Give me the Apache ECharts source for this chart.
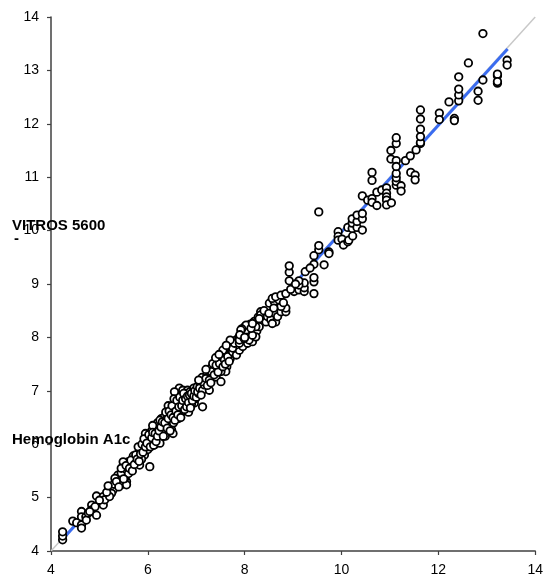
<!DOCTYPE html>
<html>
<head>
<meta charset="utf-8">
<script src="https://cdn.jsdelivr.net/npm/echarts@6/dist/echarts.min.js"></script>
<style>
html,body{margin:0;padding:0;background:#fff;}
#chart{width:546px;height:585px;}
</style>
</head>
<body>
<div id="chart"></div>
<script>
// Tick settings
var xTicks = [4, 6, 8, 10, 12, 14];
var yTicks = [4, 5, 6, 7, 8, 9, 10, 11, 12, 13, 14];

// Axis title texts
var yTitleLine1 = 'VITROS 5600';
var yTitleLine2 = '-';
var yTitleLine3 = 'Hemoglobin A1c';

// Reference lines
var identityLine = [[4, 4], [14, 14]];
var fitLine = [[4.22, 4.2], [13.43, 13.4]];

// Scatter points: [reference method, VITROS 5600]
var lowPoints = [
  [4.24,4.21],[4.24,4.28],[4.24,4.36],
  [4.45,4.56],[4.53,4.53],[4.63,4.74],[4.63,4.64],[4.63,4.49],[4.63,4.43],[4.72,4.64],[4.73,4.58],[4.77,4.71],
  [4.84,4.86],[4.84,4.77],[4.91,4.83],[4.94,4.67],[4.8,4.74],[4.94,5.03],[5.08,5.02],[5.08,4.86],[5.11,4.96],
  [5.21,5.17],[5.28,5.14],[5.25,5.08],[5.21,5.02],[5.38,5.42],[5.42,5.33],[5.45,5.24],[5.49,5.46],[5.56,5.3],
  [5.52,5.55],[5.59,5.67],[5.56,5.24],[5.32,5.36],[5.52,5.36],[5.45,5.46],[5.63,5.49],[5.56,5.52],[5.49,5.67],
  [5.59,5.61],[5.66,5.61],[5.69,5.67],[5.76,5.7],[5.83,5.61],[6.04,5.58],
  [5.3,5.25],[5.35,5.3],[5.4,5.2],[5.15,5.1],[5.0,4.95],[5.18,5.22],[5.6,5.45],[5.7,5.78]
];
var midPoints = [
  [5.8,5.8],[5.93,5.8],[5.83,5.89],[5.97,5.92],[5.9,5.99],[5.93,6.05],[6.0,6.11],[6.04,6.08],[6.07,6.02],
  [6.14,5.99],[6.21,6.05],[6.14,6.14],[6.24,6.17],[6.35,6.27],[6.38,6.33],[6.49,6.27],[6.52,6.2],[6.31,6.39],
  [6.28,6.48],[6.41,6.42],[6.49,6.45],[6.45,6.58],[6.55,6.64],[6.59,6.73],[6.62,6.92],[6.45,6.67],[6.55,6.7],
  [6.61,6.95],[6.65,7.05],[6.72,7.01],[6.82,7.01],[6.76,6.89],[6.69,6.8],[6.79,6.77],[6.86,6.7],[6.96,6.77],
  [6.89,6.89],[6.93,6.95],[7.13,6.7],
  [5.87,5.72],[5.95,6.2],[6.0,5.9],[6.08,6.25],[6.12,6.08],[6.18,6.22],[6.22,6.3],[6.27,6.12],[6.3,6.25],
  [6.33,6.5],[6.36,6.15],[6.4,6.55],[6.43,6.35],[6.47,6.5],[6.5,6.62],[6.53,6.4],[6.57,6.52],[6.6,6.6],
  [6.63,6.48],[6.66,6.68],[6.7,6.9],[6.73,6.62],[6.77,6.95],[6.8,6.82],[6.84,6.6],[6.87,6.98],[6.9,6.75],
  [6.95,7.05],[6.98,6.85],[6.2,6.4],[6.25,6.02],[6.1,6.35],[6.42,6.72],[6.55,6.98]
];
var densePoints = [
  [5.45,5.55],[5.5,5.35],[5.55,5.6],[5.62,5.55],[5.65,5.7],[5.68,5.5],[5.72,5.62],[5.75,5.8],[5.78,5.72],
  [5.8,5.95],[5.82,5.68],[5.85,5.82],[5.88,6.0],[5.9,5.85],[5.92,6.1],[5.95,5.95],[5.98,6.02],[6.02,6.18],
  [6.05,5.95],[6.08,6.12],[6.1,6.22],[6.12,5.98],[6.15,6.2],[6.17,6.05],[6.2,6.15],[6.23,6.25],[6.25,6.45],
  [6.27,6.32],[6.3,6.42],[6.32,6.15],[6.35,6.4],[6.37,6.6],[6.4,6.3],[6.42,6.48],[6.44,6.62],[6.46,6.25],
  [6.48,6.55],[6.5,6.72],[6.52,6.5],[6.54,6.85],[6.56,6.45],[6.58,6.62],[6.6,6.82],[6.62,6.55],[6.64,6.7],
  [6.66,6.88],[6.68,6.5],[6.7,6.72],[6.72,6.82],[6.74,6.95],[6.76,6.65],[6.78,6.85],[6.8,6.7],[6.82,6.9],
  [6.84,6.78],[6.86,6.92],[6.88,6.68],[6.9,6.95],[6.92,6.82],[6.95,6.9],[6.97,7.0],[7.0,6.88],[7.02,7.08],
  [7.05,6.95],[7.08,7.12],[7.1,7.02],[7.12,7.25],[7.15,7.08],[7.18,7.18],[7.2,7.05],[7.22,7.3],[7.25,7.15],
  [7.28,7.28],[7.3,7.42],[7.32,7.22],[7.35,7.38],[7.38,7.45],[7.4,7.32],[7.43,7.52],[7.45,7.45],[7.48,7.38],
  [7.5,7.55],[7.53,7.65],[7.55,7.38],[7.58,7.7],[7.6,7.62],[7.63,7.45],[7.65,7.75],[7.68,7.68],[7.7,7.6],
  [7.72,7.72],[7.75,7.9],[7.78,7.7],[7.8,7.85],[7.82,7.95],[7.85,7.82],[7.88,8.0],[7.9,7.85],[7.92,7.92],
  [7.95,8.05],[7.98,7.88],[8.0,8.2],[8.05,8.0],[8.08,8.15],[8.1,8.05],[8.12,8.25],[8.15,8.1],[8.18,8.0],
  [8.2,8.3],[8.25,8.12],[8.28,8.38],[8.3,8.2]
];
var upperMidPoints = [
  [7.03,6.98],[7.07,7.05],[7.13,7.01],[7.27,7.01],[7.17,7.11],[7.13,7.17],[7.2,7.23],[7.27,7.2],[7.31,7.36],
  [7.41,7.26],[7.51,7.17],[7.61,7.36],[7.51,7.36],[7.44,7.42],[7.34,7.51],[7.41,7.48],[7.48,7.51],[7.58,7.58],
  [7.55,7.76],[7.65,7.64],[7.72,7.83],[7.75,7.73],[7.79,7.8],[7.83,7.67],[7.89,7.76],[7.85,7.89],[7.96,7.92],
  [8.03,7.89],[8.06,8.08],[8.03,8.14],[8.03,8.23],[7.94,8.16],
  [7.82,7.86],[7.96,7.83],[7.75,7.8],[7.79,7.89],[7.89,7.89],[7.89,7.95],[8.06,7.89],[8.16,7.92],[8.09,7.95],
  [7.99,7.98],[8.23,8.01],[8.16,8.04],[7.92,8.14],[8.23,8.2],[8.13,8.17],[8.16,8.26],
  [7.05,7.2],[7.1,6.92],[7.2,7.4],[7.23,7.1],[7.37,7.3],[7.4,7.62],[7.45,7.35],[7.55,7.45],[7.6,7.5],
  [7.68,7.55],[7.7,7.95],[7.62,7.85],[7.9,8.05],[8.0,8.0],[7.3,7.15],[7.47,7.68]
];
var upperPoints = [
  [8.33,8.48],[8.33,8.42],[8.37,8.33],[8.44,8.29],[8.47,8.39],[8.54,8.33],[8.64,8.29],[8.57,8.26],[8.68,8.39],
  [8.75,8.48],[8.85,8.48],[8.85,8.55],[8.75,8.58],[8.51,8.64],[8.61,8.67],[8.71,8.7],[8.57,8.73],[8.64,8.76],
  [8.75,8.79],[8.85,8.82],
  [9.02,8.86],[9.12,8.89],[9.23,8.86],[9.23,8.93],[9.23,9.02],[9.12,8.98],[9.12,9.06],[9.43,8.82],[9.43,9.04],
  [9.43,9.12],[8.92,9.06],[8.92,9.22],[8.92,9.34],[9.25,9.23],[9.43,9.37],[9.64,9.36],[9.43,9.53],[9.53,9.64],
  [9.53,9.72],[9.74,9.6],[9.74,9.57],[9.53,10.35],
  [8.3,8.35],[8.4,8.5],[8.5,8.45],[8.6,8.55],[8.8,8.65],[8.95,8.9],[9.05,9.0],[9.35,9.3]
];
var highPoints = [
  [9.93,9.98],[9.93,9.89],[9.93,9.82],[10.01,9.84],[10.04,9.73],[10.13,9.79],[10.15,9.82],[10.23,9.9],
  [10.13,10.06],[10.22,10.04],[10.22,10.14],[10.22,10.22],[10.32,10.06],[10.32,10.17],[10.32,10.29],
  [10.43,10.01],[10.43,10.22],[10.43,10.32],[10.43,10.65],[10.54,10.57],[10.63,10.6],[10.63,10.53],
  [10.73,10.47],[10.73,10.72],[10.83,10.76],[10.63,10.94],[10.63,11.09],[10.93,10.8],[10.93,10.7],
  [10.93,10.63],[10.93,10.57],[10.93,10.48],[11.03,10.52],[11.13,10.85],[11.13,10.92],[11.13,10.99],
  [11.13,11.07],[11.23,10.84],[11.23,10.74],[11.43,11.09],[11.52,11.04],[11.52,10.95],[11.02,11.5],
  [11.02,11.34],[11.13,11.31],[11.13,11.2],[11.13,11.63],[11.13,11.74],[11.32,11.31],[11.42,11.4],
  [11.54,11.51],[11.63,11.63],[11.63,11.65],[11.63,11.76],[11.63,11.9],[11.63,12.09],[11.63,12.26],
  [12.02,12.2],[12.02,12.08],[12.33,12.1],[12.33,12.06],[12.22,12.41],[12.42,12.43],[12.42,12.54],
  [12.42,12.65],[12.42,12.88],[12.82,12.61],[12.82,12.44],[12.92,12.82],[12.92,13.69],[12.62,13.14],
  [13.22,12.9],[13.22,12.93],[13.22,12.76],[13.22,12.79],[13.42,13.19],[13.42,13.1]
];

var allPoints = lowPoints.concat(midPoints, densePoints, upperMidPoints, upperPoints, highPoints);

var chart = echarts.init(document.getElementById('chart'), null, {renderer: 'canvas'});
var font = 'Arial, "Liberation Sans", sans-serif';
var axisCommon = {
  axisLine: {show: true, onZero: false, lineStyle: {color: '#404040', width: 1.5}},
  axisTick: {show: true, inside: false, length: 4, lineStyle: {color: '#404040', width: 1.2}},
  splitLine: {show: false},
  axisLabel: {color: '#000', fontSize: 14, fontFamily: font, margin: 12}
};
var option = {
  animation: false,
  backgroundColor: '#fff',
  grid: {left: 51, right: 9, top: 17, bottom: 34, containLabel: false},
  xAxis: Object.assign({
    type: 'value', min: xTicks[0], max: xTicks[xTicks.length - 1], interval: xTicks[1] - xTicks[0]
  }, axisCommon),
  yAxis: Object.assign({
    type: 'value', min: yTicks[0], max: yTicks[yTicks.length - 1], interval: yTicks[1] - yTicks[0]
  }, axisCommon),
  graphic: [
    {type: 'text', x: 12, y: 226, z: 100, style: {text: yTitleLine1, font: 'bold 15px ' + font, fill: '#000', verticalAlign: 'middle'}},
    {type: 'text', x: 14, y: 239, z: 100, style: {text: yTitleLine2, font: 'bold 15px ' + font, fill: '#000', verticalAlign: 'middle'}},
    {type: 'text', x: 12, y: 440, z: 100, style: {text: yTitleLine3, font: 'bold 15px ' + font, fill: '#000', verticalAlign: 'middle'}}
  ],
  series: [
    {type: 'line', data: identityLine, symbol: 'none', z: 1, silent: true,
     lineStyle: {color: '#c8c8c8', width: 1.5}},
    {type: 'line', data: fitLine, symbol: 'none', z: 2, silent: true,
     lineStyle: {color: '#3a6cf0', width: 3}},
    {type: 'scatter', data: allPoints, symbol: 'circle', symbolSize: 7.5, z: 3,
     itemStyle: {color: '#ffffff', borderColor: '#000', borderWidth: 1.8, opacity: 1}}
  ]
};
chart.setOption(option);
</script>
</body>
</html>
